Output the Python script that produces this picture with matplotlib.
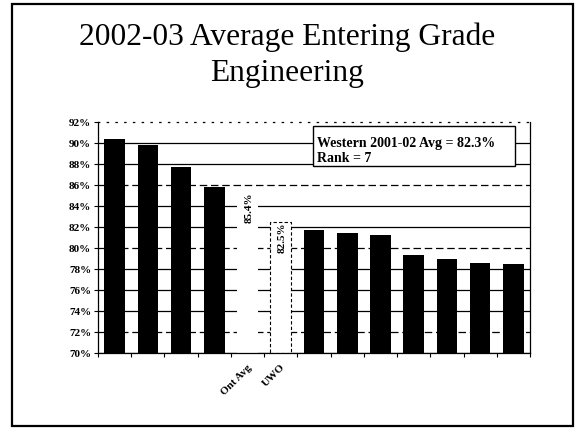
import matplotlib
matplotlib.use("Agg")
from matplotlib import pyplot as plt
from matplotlib.patches import Rectangle
from numpy import arange

# values in %, 13 schools (names blanked except Ont Avg and UWO)
grades = [90.4, 89.8, 87.7, 85.8, 85.4, 82.5, 81.7, 81.4, 81.2, 79.3, 79.0, 78.6, 78.5]
tick_labels = ["", "", "", "", "Ont Avg", "UWO", "", "", "", "", "", "", ""]
bar_colors = ["black"] * 4 + ["white", "white"] + ["black"] * 7
y_ticks = arange(70, 93, 2)
dashed_grid = [72, 80, 86]

plt.rcParams["font.family"] = ["Liberation Serif", "DejaVu Serif"]

fig = plt.figure(figsize=(5.75, 4.28), dpi=100)
ax = fig.add_axes([98/575, 1-353/428, 432/575, 231/428])

x = arange(len(grades))
for g in y_ticks[:-1]:
    ax.axhline(g, color="black", lw=0.9, ls=(0, (6, 3)) if g in dashed_grid else "-", zorder=1)

bars = ax.bar(x, [g - 70 for g in grades], bottom=70, width=0.62, color=bar_colors, zorder=2)
bars[4].set_edgecolor("none")
bars[5].set_edgecolor("black")
bars[5].set_linestyle((0, (3, 2)))
bars[5].set_linewidth(0.8)

for i in (4, 5):
    ax.text(x[i] + 0.05, grades[i] - 0.1, "%.1f%%" % grades[i], rotation=90, ha="center", va="top",
            fontsize=8, fontweight="bold", zorder=3)

ax.set_xlim(-0.5, len(grades) - 0.5)
ax.set_ylim(70, 92)
ax.set_yticks(y_ticks)
ax.set_yticklabels(["%d%%" % g for g in y_ticks], fontsize=8, fontweight="bold")
ax.set_xticks(arange(len(grades) + 1) - 0.5)
ax.set_xticklabels([])
ax.set_xticks(x, minor=True)
ax.set_xticklabels(tick_labels, minor=True, rotation=45, ha="right", rotation_mode="anchor",
                   fontsize=8, fontweight="bold")
ax.tick_params(axis="x", which="minor", length=0, pad=7)
ax.tick_params(axis="x", which="major", length=3, direction="out", width=0.8)
ax.tick_params(axis="y", length=3, width=0.8, pad=2)
for s in ax.spines.values():
    s.set_linewidth(0.9)
ax.spines["top"].set_linestyle((0, (1, 6)))

# note box
ax.add_patch(Rectangle((0.498, 0.81), 0.467, 0.173, transform=ax.transAxes, facecolor="white",
                       edgecolor="black", lw=1.0, zorder=4))
ax.text(0.508, 0.983 - 0.075, "Western 2001-02 Avg = 82.3%", transform=ax.transAxes,
        ha="left", va="center", fontsize=10, fontweight="bold", zorder=5)
ax.text(0.508, 0.983 - 0.14, "Rank = 7", transform=ax.transAxes,
        ha="left", va="center", fontsize=10, fontweight="bold", zorder=5)

fig.text(0.5, 1-37/428, "2002-03 Average Entering Grade", ha="center", va="center", fontsize=22.7)
fig.text(0.5, 1-73/428, "Engineering", ha="center", va="center", fontsize=22.7)

# slide frame
fig.patches.append(Rectangle((12/575, 2/428), 561/575, 422/428, transform=fig.transFigure,
                             fill=False, edgecolor="black", lw=1.6))

fig.savefig("out.png", dpi=100)
